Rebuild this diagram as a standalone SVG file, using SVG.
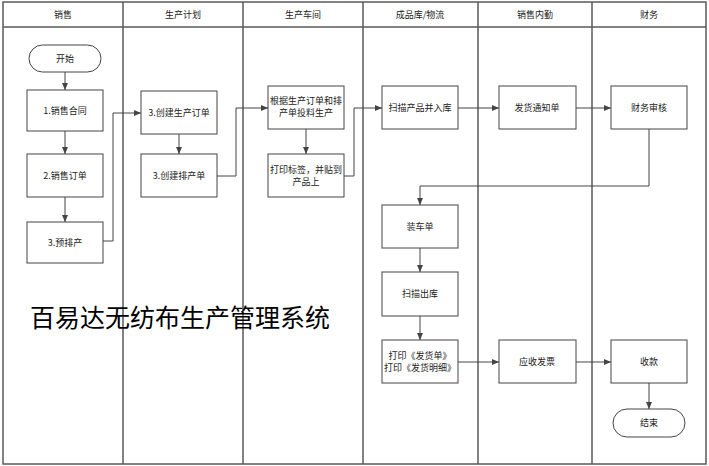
<svg xmlns="http://www.w3.org/2000/svg" width="709" height="466" viewBox="0 0 709 466">
<defs>
<style>
.lane{fill:none;stroke:#595959;stroke-width:1.5}
.n rect{fill:#fff;stroke:#444;stroke-width:1}
text{font-family:"Noto Sans CJK SC","Liberation Sans",sans-serif;font-size:9px;fill:#222;text-anchor:middle}
.c{fill:none;stroke:#444;stroke-width:1;marker-end:url(#a)}
</style>
<marker id="a" markerWidth="8" markerHeight="8" refX="7" refY="4" orient="auto" markerUnits="userSpaceOnUse"><path d="M0,1 L7,4 L0,7 Z" fill="#444"/></marker>
</defs>
<rect width="709" height="466" fill="#fff"/>
<g id="lanes">
<rect class="lane" x="3" y="2" width="703" height="462"/>
<line class="lane" x1="3" y1="27" x2="706" y2="27"/>
<line class="lane" x1="123" y1="2" x2="123" y2="464"/>
<line class="lane" x1="243" y1="2" x2="243" y2="464"/>
<line class="lane" x1="363" y1="2" x2="363" y2="464"/>
<line class="lane" x1="478" y1="2" x2="478" y2="464"/>
<line class="lane" x1="592" y1="2" x2="592" y2="464"/>
<text x="63" y="18">销售</text>
<text x="183" y="18">生产计划</text>
<text x="303" y="18">生产车间</text>
<text x="420" y="18">成品库/物流</text>
<text x="535" y="18">销售内勤</text>
<text x="649" y="18">财务</text>
</g>
<g id="connectors">
<path class="c" d="M65,72 V90"/>
<path class="c" d="M65,131 V154"/>
<path class="c" d="M65,197 V222"/>
<path class="c" d="M103,241 H113 V113 H141"/>
<path class="c" d="M179,134 V154"/>
<path class="c" d="M217,176 H236 V108 H268"/>
<path class="c" d="M306,129 V154"/>
<path class="c" d="M344,176 H354 V108 H382"/>
<path class="c" d="M458,108 H499"/>
<path class="c" d="M576,108 H611"/>
<path class="c" d="M649,129 V186 H420 V205"/>
<path class="c" d="M420,248 V272"/>
<path class="c" d="M420,316 V340"/>
<path class="c" d="M458,362 H499"/>
<path class="c" d="M576,362 H611"/>
<path class="c" d="M649,383 V409"/>
</g>
<g id="start" class="n"><rect x="29" y="45" width="72" height="27" rx="13.5"/><text x="65" y="62">开始</text></g>
<g id="n1" class="n"><rect x="27" y="90" width="76" height="41"/><text x="65" y="114">1.销售合同</text></g>
<g id="n2" class="n"><rect x="27" y="154" width="76" height="43"/><text x="65" y="179">2.销售订单</text></g>
<g id="n3" class="n"><rect x="27" y="222" width="76" height="41"/><text x="65" y="246">3.预排产</text></g>
<g id="n4" class="n"><rect x="141" y="91" width="76" height="43"/><text x="179" y="116">3.创建生产订单</text></g>
<g id="n5" class="n"><rect x="141" y="154" width="76" height="43"/><text x="179" y="179">3.创建排产单</text></g>
<g id="n6" class="n"><rect x="268" y="86" width="76" height="43"/><text x="306" y="104">根据生产订单和排</text><text x="306" y="116">产单投料生产</text></g>
<g id="n7" class="n"><rect x="268" y="154" width="76" height="43"/><text x="306" y="173">打印标签，并贴到</text><text x="306" y="185">产品上</text></g>
<g id="n8" class="n"><rect x="382" y="86" width="76" height="43"/><text x="420" y="111">扫描产品并入库</text></g>
<g id="n9" class="n"><rect x="499" y="86" width="77" height="43"/><text x="537" y="111">发货通知单</text></g>
<g id="n10" class="n"><rect x="611" y="86" width="76" height="43"/><text x="649" y="111">财务审核</text></g>
<g id="n11" class="n"><rect x="382" y="205" width="76" height="43"/><text x="420" y="230">装车单</text></g>
<g id="n12" class="n"><rect x="382" y="272" width="76" height="44"/><text x="420" y="297">扫描出库</text></g>
<g id="n13" class="n"><rect x="382" y="340" width="76" height="43"/><text x="420" y="359">打印《发货单》</text><text x="420" y="371">打印《发货明细》</text></g>
<g id="n14" class="n"><rect x="499" y="340" width="77" height="43"/><text x="537" y="365">应收发票</text></g>
<g id="n15" class="n"><rect x="611" y="340" width="76" height="43"/><text x="649" y="365">收款</text></g>
<g id="end" class="n"><rect x="613" y="409" width="72" height="28" rx="14"/><text x="649" y="426">结束</text></g>
<text x="30" y="327" style="font-size:25px;text-anchor:start;fill:#000">百易达无纺布生产管理系统</text>
</svg>
